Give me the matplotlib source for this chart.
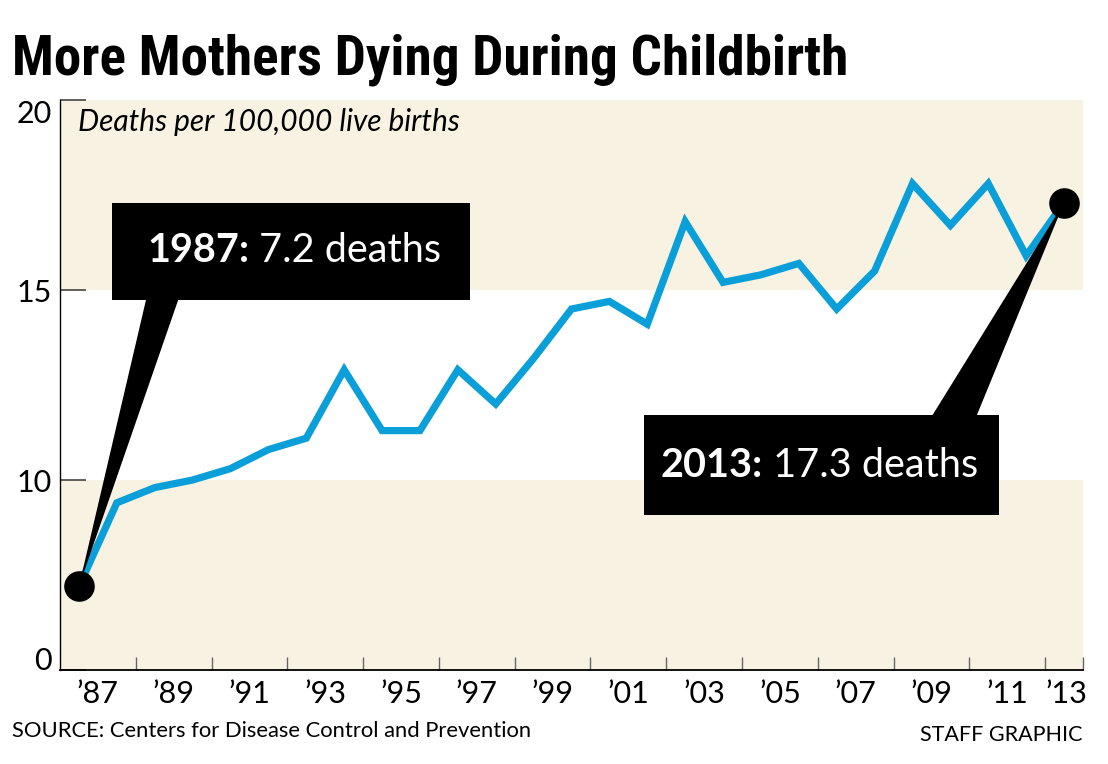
import matplotlib
matplotlib.use("Agg")
import matplotlib.pyplot as plt
import numpy as np
from matplotlib import font_manager
from matplotlib.patches import Rectangle, Polygon

# Maternal deaths per 100,000 live births
years = list(range(1987, 2014))
deaths = [7.2, 9.4, 9.8, 10.0, 10.3, 10.8, 11.1, 12.9, 11.3, 11.3,
          12.9, 12.0, 13.2, 14.5, 14.7, 14.1, 16.8, 15.2, 15.4, 15.7,
          14.5, 15.5, 17.8, 16.7, 17.8, 15.9, 17.3]

ytick_values = [5, 10, 15, 20]
ytick_labels = ["0", "10", "15", "20"]
xlabel_years = list(range(1987, 2014, 2))
xlabel_text = ["\u2019%02d" % (y % 100) for y in xlabel_years]

LINE = "#0a9fd9"
BEIGE = "#f8f2e3"
FONT = "Lato"

names = {f.name for f in font_manager.fontManager.ttflist}
title_family = next((n for n in ["Roboto Condensed", "Open Sans Condensed", "DejaVu Sans"]
                     if n in names), "DejaVu Sans")

W, H = 1108, 764
fig = plt.figure(figsize=(W / 100, H / 100), dpi=100)
ax = fig.add_axes([60 / W, 1 - 670 / H, (1083 - 60) / W, (670 - 100) / H])
ax.set_xlim(1986.5, 2013.5)
ax.set_ylim(5.0, 20.0)

# background bands
ax.axhspan(15, 20, color=BEIGE, lw=0, zorder=0)
ax.axhspan(5, 10, color=BEIGE, lw=0, zorder=0)

ax.plot(years, deaths, color=LINE, lw=5.2, solid_joinstyle="miter", zorder=3)

# spines / ticks
for s in ["top", "right"]:
    ax.spines[s].set_visible(False)
ax.spines["left"].set_linewidth(1.0)
ax.spines["bottom"].set_linewidth(1.3)

ax.set_yticks(ytick_values)
ax.set_yticklabels(ytick_labels, fontsize=22, family=FONT)
ax.tick_params(axis="y", direction="in", length=19, width=1.2, color="#444444", pad=6)
ylabs = ax.get_yticklabels()
ylabs[0].set_verticalalignment("baseline")
ylabs[-1].set_verticalalignment("top")

label_pos = [y + 0.5 for y in xlabel_years[:-1]] + [xlabel_years[-1] + 0.05]
ax.set_xticks(label_pos)
ax.set_xticklabels(xlabel_text, fontsize=22, family=FONT)
ax.set_xticks(np.arange(1987.5, 2014, 1), minor=True)
ax.tick_params(axis="x", which="major", length=0, pad=7)
ax.tick_params(axis="x", which="minor", direction="in", length=9.5, width=1, color="#666666")

ax.text(0.018, 0.962, "Deaths per 100,000 live births", transform=ax.transAxes,
        fontsize=21.5, style="italic", family=FONT, va="center", ha="left")

# callouts
callouts = [
    # box (x0, y0, x1, y1), wedge base (xa, xb, y), text (x, baseline), point index
    ((1987.87, 14.74, 1997.33, 17.29), (1988.77, 1989.62, 14.74), (1988.80, 15.74), 0),
    ((2001.91, 9.08, 2011.28, 11.71), (2009.53, 2010.70, 11.71), (2002.36, 10.07), -1),
]
fig.canvas.draw()
renderer = fig.canvas.get_renderer()
for (x0, y0, x1, y1), (wa, wb, wy), (tx, ty), idx in callouts:
    px, py = years[idx], deaths[idx]
    ax.add_patch(Polygon([(wa, wy), (wb, wy), (px, py)], closed=True,
                         color="black", lw=0, zorder=4, clip_on=False))
    ax.add_patch(Rectangle((x0, y0), x1 - x0, y1 - y0, color="black", lw=0,
                           zorder=5, clip_on=False))
    ax.plot([px], [py], "o", color="black", ms=21, zorder=7, clip_on=False)
    t1 = ax.text(tx, ty, "%d:" % px, color="white", fontsize=28.5, fontweight="bold",
                 family=FONT, va="baseline", ha="left", zorder=6)
    bb = t1.get_window_extent(renderer)
    x2 = ax.transData.inverted().transform((bb.x1, 0))[0]
    ax.text(x2, ty, " %.1f deaths" % py, color="white", fontsize=28.5,
            family=FONT, va="baseline", ha="left", zorder=6)

# title fitted to the original width
title = fig.text(12 / W, 1 - 75 / H, "More Mothers Dying During Childbirth",
                 fontsize=40, fontweight="heavy", family=title_family,
                 fontstretch="condensed", va="baseline", ha="left")
tw = title.get_window_extent(renderer).width
title.set_fontsize(40 * 833 / tw)

fig.text(12 / W, 1 - 731 / H, "SOURCE: Centers for Disease Control and Prevention",
         fontsize=15.8, family=FONT, va="center", ha="left")
fig.text(1083 / W, 1 - 735 / H, "STAFF GRAPHIC", fontsize=15.5, family=FONT,
         va="center", ha="right")

fig.savefig("out.png", dpi=100)
